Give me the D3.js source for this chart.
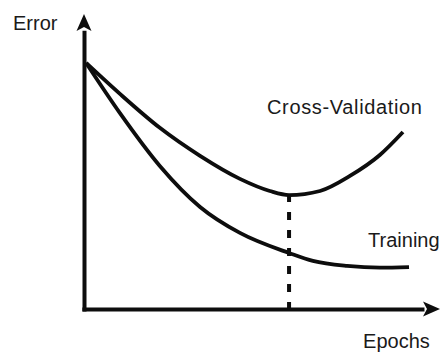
<!DOCTYPE html>
<html>
<head>
<meta charset="utf-8">
<script src="https://cdn.jsdelivr.net/npm/d3@7"></script>
<style>
  html, body { margin: 0; padding: 0; background: #fff; }
  svg { display: block; }
  text { font-family: "Liberation Sans", Arial, sans-serif; fill: #1a1a1a; }
</style>
</head>
<body>
<svg id="chart" width="441" height="352"></svg>
<script>
// ---- Data ----
const cvEpochs    = [0.6, 10.1, 21.3, 32.6, 43.8, 52.2, 57.6, 66.3, 74.7, 83.1, 89.6];
const cvError     = [83.4, 72.9, 61.4, 51.9, 44.1, 40.0, 38.6, 40.0, 45.1, 52.2, 60.0];
const trainEpochs = [0.6, 10.1, 21.3, 32.6, 43.8, 57.6, 64.3, 73.9, 83.1, 91.3];
const trainError  = [83.4, 66.4, 48.5, 34.6, 25.8, 19.0, 16.3, 14.6, 14.0, 14.2];
const stopEpoch   = 57.6;
const seriesNames = ["Cross-Validation", "Training"];
const axisLabels  = ["Epochs", "Error"];

// ---- Scales ----
const svg = d3.select("#chart");
const x = d3.scaleLinear().domain([0, 100]).range([84, 440]);
const y = d3.scaleLinear().domain([0, 100]).range([309, 14]);

const ink = "#0d0d0d";

// ---- Axes (domain lines via d3 axes, arrows drawn at the ends) ----
const xAxisScale = x.copy().domain([-0.6, 95.5]).range([x(-0.6), x(95.5)]);
const yAxisScale = y.copy().domain([-0.7, 94.5]).range([y(-0.7), y(94.5)]);

const gx = svg.append("g").attr("transform", `translate(0,${y(0)})`)
  .call(d3.axisBottom(xAxisScale).tickValues([]).tickSizeOuter(0));
gx.select(".domain").attr("stroke", ink).attr("stroke-width", 4);

const gy = svg.append("g").attr("transform", `translate(${x(0)},0)`)
  .call(d3.axisLeft(yAxisScale).tickValues([]).tickSizeOuter(0));
gy.select(".domain").attr("stroke", ink).attr("stroke-width", 4);

// arrowheads (tip at domain max)
const xt = x(100), yx = y(0);
svg.append("path")
  .attr("d", `M${xt},${yx} L${xt-17},${yx-7.5} L${xt-13},${yx} L${xt-17},${yx+7.5} Z`)
  .attr("fill", ink);
const yt = y(100), xy = x(0);
svg.append("path")
  .attr("d", `M${xy},${yt} L${xy-7.5},${yt+17} L${xy},${yt+13} L${xy+7.5},${yt+17} Z`)
  .attr("fill", ink);

// ---- Curves ----
const line = d3.line()
  .x(d => x(d[0]))
  .y(d => y(d[1]))
  .curve(d3.curveMonotoneX);

const cvData = cvEpochs.map((e, i) => [e, cvError[i]]);
const trData = trainEpochs.map((e, i) => [e, trainError[i]]);

svg.append("path").datum(cvData)
  .attr("d", line).attr("fill", "none")
  .attr("stroke", ink).attr("stroke-width", 3.8);
svg.append("path").datum(trData)
  .attr("d", line).attr("fill", "none")
  .attr("stroke", ink).attr("stroke-width", 3.8);

// ---- Early-stopping dashed line ----
const minCv = d3.min(cvError);
svg.append("line")
  .attr("x1", x(stopEpoch)).attr("x2", x(stopEpoch))
  .attr("y1", y(0) + 1).attr("y2", y(minCv))
  .attr("stroke", ink).attr("stroke-width", 4)
  .attr("stroke-dasharray", "8,10");

// ---- Labels ----
const fs = 20;
svg.append("text").attr("x", x(51.4)).attr("y", y(66.1))
  .attr("font-size", fs).attr("textLength", 155).text(seriesNames[0]);
svg.append("text").attr("x", x(79.8)).attr("y", y(21.0))
  .attr("font-size", fs).text(seriesNames[1]);
svg.append("text").attr("x", x(78.4)).attr("y", y(-13.2))
  .attr("font-size", fs).text(axisLabels[0]);
svg.append("text").attr("x", 13).attr("y", y(94.6))
  .attr("font-size", fs).text(axisLabels[1]);
</script>
</body>
</html>
